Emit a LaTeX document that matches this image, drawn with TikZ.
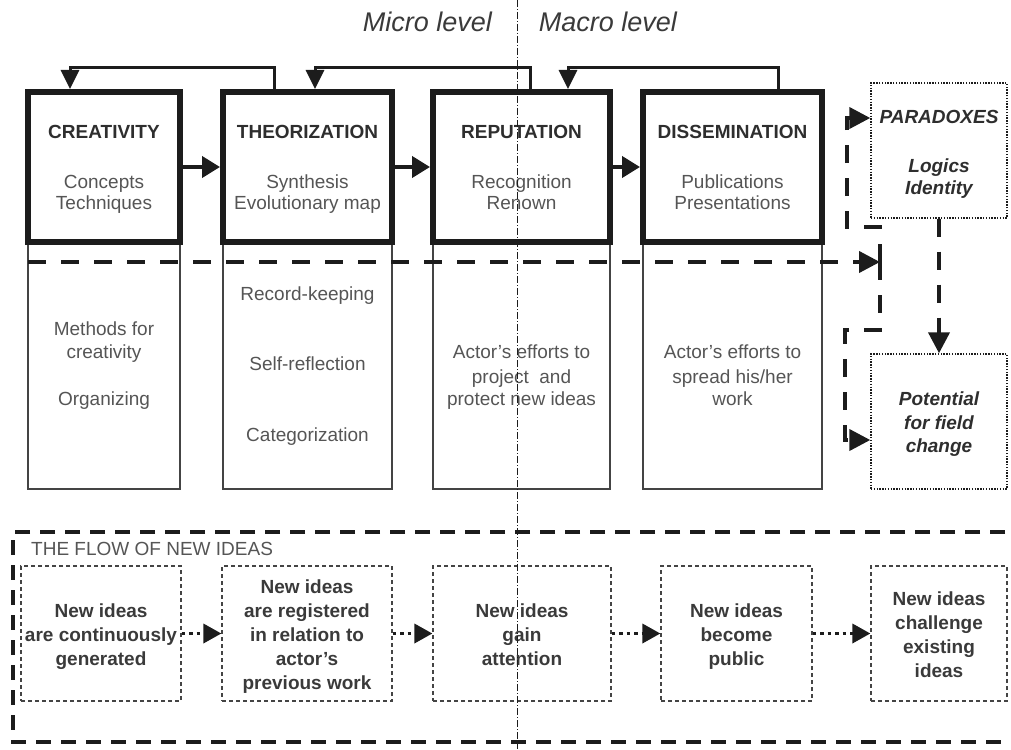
\documentclass[tikz,border=0pt]{standalone}
\usepackage{fontspec}
\setmainfont{Liberation Sans}
\usetikzlibrary{arrows.meta}
\definecolor{ink}{HTML}{1C1C1C}
\definecolor{hdgray}{HTML}{2E2E2E}
\definecolor{txgray}{HTML}{555555}
\definecolor{bdgray}{HTML}{444444}
\definecolor{flgray}{HTML}{3A3A3A}
\newcommand{\stk}[1]{\begin{tabular}[t]{@{}c@{}}#1\end{tabular}}
\tikzset{
  thickbox/.style={draw=ink, line width=6pt, minimum height=150pt, inner sep=0pt},
  lowbox/.style={draw=bdgray, line width=1.3pt, minimum height=247pt, inner sep=0pt},
  dotbox/.style={draw=ink, line width=1.4pt, dash pattern=on 1.4pt off 1.4pt, minimum width=136pt, minimum height=135pt, inner sep=0pt},
  flowbox/.style={draw=bdgray, line width=1.2pt, dash pattern=on 4pt off 3pt, minimum height=135pt, inner sep=0pt},
  fb/.style={draw=ink, line width=3pt, -{Triangle[length=19pt,width=18pt]}},
  fwd/.style={draw=ink, line width=4pt, -{Triangle[length=18pt,width=21pt]}},
  bigdash/.style={draw=ink, line width=4pt, dash pattern=on 18pt off 15pt},
  bigdasharrow/.style={bigdash, -{Triangle[length=21pt,width=21pt]}},
  dotarrow/.style={draw=ink, line width=3.5pt, dash pattern=on 3.5pt off 4pt, -{Triangle[length=18pt,width=19pt]}},
  framedash/.style={draw=ink, line width=3.5pt, dash pattern=on 15pt off 10pt},
  axisline/.style={draw=ink, line width=0.9pt, dash pattern=on 7pt off 2pt on 1pt off 2pt},
  hd/.style={font=\fontsize{19}{23}\selectfont\bfseries, text=hdgray, inner sep=0pt, anchor=base},
  tx/.style={font=\fontsize{19}{23}\selectfont, text=txgray, inner sep=0pt, anchor=base},
  hdi/.style={font=\fontsize{19}{23}\selectfont\bfseries\itshape, text=hdgray, inner sep=0pt, anchor=base},
  fl/.style={font=\fontsize{19}{24}\selectfont\bfseries, text=flgray, inner sep=0pt, anchor=base},
  lvl/.style={font=\fontsize{27}{31}\selectfont\itshape, text=flgray, inner sep=0pt, anchor=base}
}
\begin{document}
\begin{tikzpicture}[x=1pt,y=-1pt]
\useasboundingbox (0,0) rectangle (1011,749);
\clip (0,0) rectangle (1011,749);

% level labels
\node[lvl] (micro) at (427.5,32) {Micro level};
\node[lvl] (macro) at (608,32) {Macro level};

% lower thin boxes
\node[lowbox, minimum width=152pt] (low1) at (104,365.5) {};
\node[lowbox, minimum width=169pt] (low2) at (307.5,365.5) {};
\node[lowbox, minimum width=177pt] (low3) at (521.5,365.5) {};
\node[lowbox, minimum width=179pt] (low4) at (732.5,365.5) {};

% thick boxes
\node[thickbox, minimum width=152pt] (box1) at (104,167) {};
\node[thickbox, minimum width=169pt] (box2) at (307.5,167) {};
\node[thickbox, minimum width=177pt] (box3) at (521.5,167) {};
\node[thickbox, minimum width=179pt] (box4) at (732.5,167) {};

% titles and subtitles
\node[hd] (t1) at (104,139) {CREATIVITY};
\node[hd] (t2) at (307.5,139) {THEORIZATION};
\node[hd] (t3) at (521.5,139) {REPUTATION};
\node[hd] (t4) at (732.5,139) {DISSEMINATION};
\node[tx] (s1) at (104,188) {\stk{Concepts\\[-2pt]Techniques}};
\node[tx] (s2) at (307.5,188) {\stk{Synthesis\\[-2pt]Evolutionary map}};
\node[tx] (s3) at (521.5,188) {\stk{Recognition\\[-2pt]Renown}};
\node[tx] (s4) at (732.5,188) {\stk{Publications\\[-2pt]Presentations}};

% lower texts
\node[tx] (l1) at (104,335) {\stk{Methods for\\creativity\\[24pt]Organizing}};
\node[tx] (l2) at (307.5,300) {\stk{Record-keeping\\[47pt]Self-reflection\\[48pt]Categorization}};
\node[tx] (l3) at (521.5,358) {\stk{Actor's efforts to\\[2pt]project\ \ and\\[-1pt]protect new ideas}};
\node[tx] (l4) at (732.5,358) {\stk{Actor's efforts to\\[2pt]spread his/her\\[-1pt]work}};

% feedback arrows
\draw[fb] ([xshift=-33.5pt]box2.north) |- ([xshift=-34pt,yshift=21pt]box1.north) -- ([xshift=-34pt]box1.north);
\draw[fb] ([xshift=8.5pt]box3.north) |- ([xshift=7.5pt,yshift=21pt]box2.north) -- ([xshift=7.5pt]box2.north);
\draw[fb] ([xshift=45.5pt]box4.north) |- ([xshift=46.5pt,yshift=21pt]box3.north) -- ([xshift=46.5pt]box3.north);

% forward arrows
\draw[fwd] (box1.east) -- (box2.west);
\draw[fwd] (box2.east) -- (box3.west);
\draw[fwd] (box3.east) -- (box4.west);

% right boxes
\node[dotbox] (para) at (939,150.5) {};
\node[dotbox] (pot) at (939,421.5) {};
\node[hdi] (pt) at (939,124) {PARADOXES};
\node[hdi] (pl) at (939,172) {\stk{Logics\\[-1pt]Identity}};
\node[hdi] (pp) at (939,405) {\stk{Potential\\[1pt]for field\\change}};

% dashed connections
\coordinate (dstart) at (28,262);
\coordinate (dsplit) at (880,262);
\draw[bigdasharrow] (dstart) -- (dsplit);
\draw[bigdasharrow] (dsplit) |- (847,227) |- ([yshift=32.5pt]para.west);
\draw[bigdasharrow] (dsplit) |- (845,330) |- ([yshift=-18.5pt]pot.west);
\draw[bigdasharrow] (para.south) -- (pot.north);

% flow frame
\draw[framedash] (1030,532) -- (13,532) -- (13,742) -- (1030,742);
\node[tx, anchor=base west] (flowtitle) at (31,555) {THE FLOW OF NEW IDEAS};

% flow boxes
\node[flowbox, minimum width=160pt] (fa) at (101,633.5) {};
\node[flowbox, minimum width=170pt] (fbx) at (307,633.5) {};
\node[flowbox, minimum width=178pt] (fc) at (522,633.5) {};
\node[flowbox, minimum width=151pt] (fd) at (736.5,633.5) {};
\node[flowbox, minimum width=136pt] (fe) at (939,633.5) {};

\node[fl] (fat) at (101,617) {\stk{New ideas\\are continuously\\generated}};
\node[fl] (fbt) at (307,593) {\stk{New ideas\\are registered\\in relation to\\actor's\\previous work}};
\node[fl] (fct) at (522,617) {\stk{New ideas\\gain\\attention}};
\node[fl] (fdt) at (736.5,617) {\stk{New ideas\\become\\public}};
\node[fl] (fet) at (939,605) {\stk{New ideas\\challenge\\existing\\ideas}};

\draw[dotarrow] (fa.east) -- (fbx.west);
\draw[dotarrow] (fbx.east) -- (fc.west);
\draw[dotarrow] (fc.east) -- (fd.west);
\draw[dotarrow] (fd.east) -- (fe.west);

% micro/macro divider
\coordinate (axtop) at (517,0);
\coordinate (axbot) at (517,749);
\draw[axisline] (axtop) -- (axbot);
\end{tikzpicture}
\end{document}
